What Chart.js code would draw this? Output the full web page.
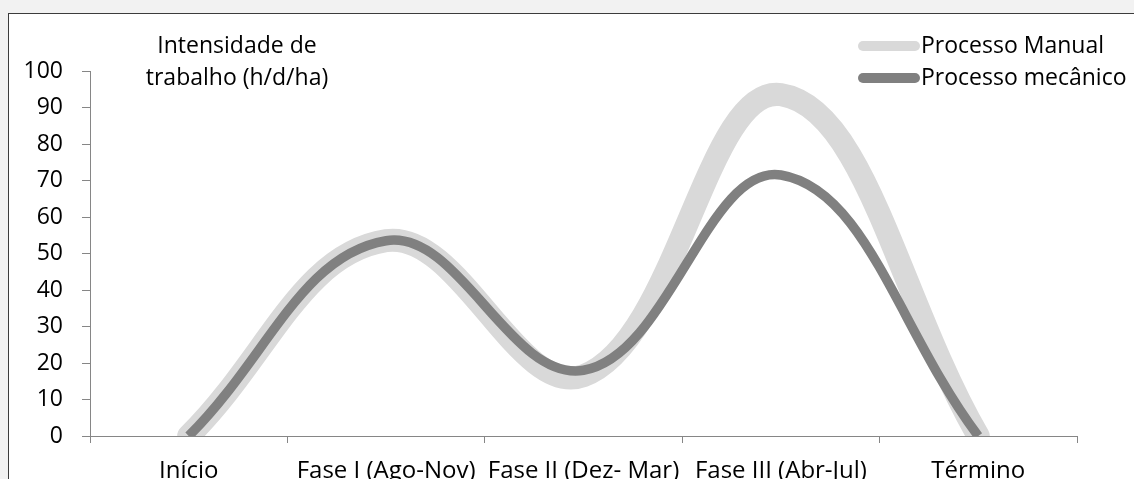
<!DOCTYPE html>
<html>
<head>
<meta charset="utf-8">
<script src="https://cdn.jsdelivr.net/npm/chart.js@4"></script>
<style>
  html, body { margin: 0; padding: 0; overflow: hidden; background: #f2f2f2; }
  .box {
    position: absolute; left: 8px; top: 13px;
    width: 1200px; height: 600px;
    background: #fff; border: 1px solid #3c3c3c;
  }
  #chart1 { position: absolute; left: 0; top: 0; }
</style>
</head>
<body>
<div class="box">
  <canvas id="chart1" width="1125" height="500"></canvas>
</div>
<script>
const phases = ["Início", "Fase I (Ago-Nov)", "Fase II (Dez- Mar)", "Fase III (Abr-Jul)", "Término"];
const manual_values = [0, 53.5, 16.5, 93.5, 0];
const mechanic_values = [0, 53.5, 18, 71.5, 0];
const series_names = ["Processo Manual", "Processo mecânico"];
const axis_title = ["Intensidade de", "trabalho (h/d/ha)"];

const FONT = "'Open Sans', sans-serif";
const ctx1 = document.getElementById("chart1").getContext("2d");

// title text box + legend drawn by hand, like the excel layout
const extras = {
  id: "extras",
  afterDraw(chart) {
    const c = chart.ctx;
    c.save();
    c.fillStyle = "#000";
    c.font = "23px " + FONT;
    c.textAlign = "center";
    c.textBaseline = "middle";
    c.fillText(axis_title[0], 228, 32);
    c.fillText(axis_title[1], 228, 64);

    c.textAlign = "left";
    chart.data.datasets.forEach((ds, i) => {
      const y = 32 + i * 32;
      c.beginPath();
      c.lineCap = "round";
      c.lineWidth = 10;
      c.strokeStyle = ds.borderColor;
      c.moveTo(854, y);
      c.lineTo(906, y);
      c.stroke();
      c.fillText(ds.label, 912, y);
    });
    c.restore();
  }
};

const my_chart1 = new Chart(ctx1, {
  type: "line",
  data: {
    labels: phases,
    datasets: [
      {
        label: series_names[0],
        data: manual_values,
        borderColor: "#d9d9d9",
        backgroundColor: "#d9d9d9",
        borderWidth: 23,
        borderCapStyle: "round",
        pointRadius: 0,
        tension: 0.4,
        fill: false,
        order: 2,
      },
      {
        label: series_names[1],
        data: mechanic_values,
        borderColor: "#808080",
        backgroundColor: "#808080",
        borderWidth: 9.5,
        pointRadius: 0,
        tension: 0.4,
        fill: false,
        order: 1,
      },
    ],
  },
  options: {
    responsive: false,
    animation: false,
    layout: { padding: { top: 57, right: 57, left: 0, bottom: 0 } },
    plugins: {
      legend: { display: false },
      tooltip: { enabled: false },
    },
    scales: {
      x: {
        offset: true,
        grid: {
          offset: true,
          drawOnChartArea: false,
          drawTicks: true,
          tickLength: 7,
          color: "#868686",
        },
        border: { color: "#868686", width: 1 },
        ticks: {
          color: "#000",
          font: { family: FONT, size: 24 },
          padding: 14,
          maxRotation: 0,
          autoSkip: false,
        },
        afterFit: (s) => { s.height = 78; },
      },
      y: {
        min: 0,
        max: 100,
        grid: {
          drawOnChartArea: false,
          drawTicks: true,
          tickLength: 8,
          color: "#868686",
        },
        border: { color: "#868686", width: 1 },
        ticks: {
          stepSize: 10,
          color: "#000",
          font: { family: FONT, size: 23 },
          padding: 19,
        },
        afterFit: (s) => { s.width = 81; },
      },
    },
  },
  plugins: [extras],
});
</script>
</body>
</html>
